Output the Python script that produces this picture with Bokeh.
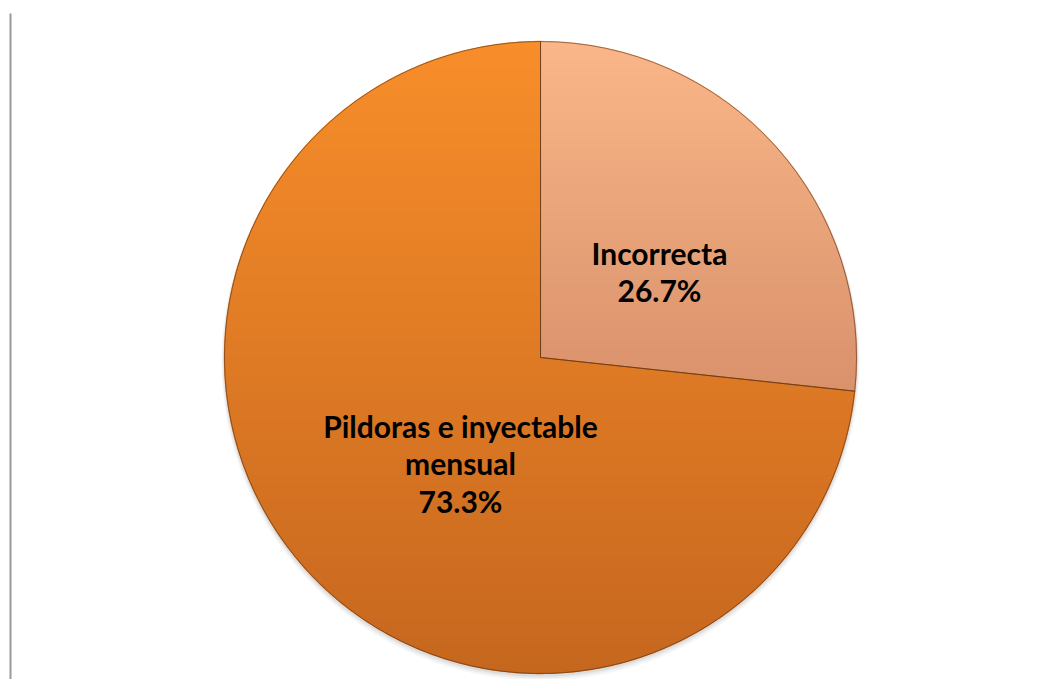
import math
from bokeh.plotting import figure
from bokeh.models import Range1d
from bokeh.core.properties import value
from bokeh.embed import file_html
from bokeh.resources import INLINE

# ---- data ----
categories = ["Incorrecta", "Pildoras e inyectable mensual"]
label_names = [["Incorrecta"], ["Pildoras e inyectable", "mensual"]]
percentages = [26.7, 73.3]

# ---- layout (screen pixel space; data y = H - screen y) ----
W, H = 1045, 679
cx, cy_page, R = 540, 357, 316
cy = H - cy_page
top_colors = [(250, 182, 136), (248, 142, 42)]
bot_colors = [(190, 116, 84), (198, 103, 31)]

p = figure(width=W, height=H, x_range=Range1d(0, W), y_range=Range1d(0, H),
           output_backend="svg", toolbar_location=None, min_border=0,
           x_axis_type=None, y_axis_type=None)
p.grid.visible = False
p.outline_line_color = None
p.background_fill_color = "white"
p.border_fill_color = "white"

# left gray rule
p.segment(x0=[10], y0=[H - 13], x1=[10], y1=[0], line_color="#9a9a9a", line_width=2)

# soft shadow
for i, a in enumerate([0.05, 0.07, 0.09]):
    p.circle(x=[cx], y=[cy - 4 + i], radius=R + 3 - i, fill_color="#555555", fill_alpha=a, line_color=None)

total = sum(percentages)
starts, ends = [], []
ang = math.pi / 2
for v in percentages:
    starts.append(ang)
    ang -= 2 * math.pi * v / total
    ends.append(ang)


def slice_poly(a0, a1, n=400):
    pts = [(cx, cy)]
    for k in range(n + 1):
        t = a0 + (a1 - a0) * k / n
        pts.append((cx + R * math.cos(t), cy + R * math.sin(t)))
    return pts


def clip(pts, keep, yc):
    out = []
    for i in range(len(pts)):
        cur, prev = pts[i], pts[i - 1]
        def inter(p0, p1):
            t = (yc - p0[1]) / (p1[1] - p0[1])
            return (p0[0] + t * (p1[0] - p0[0]), yc)
        if keep(cur):
            if not keep(prev):
                out.append(inter(prev, cur))
            out.append(cur)
        elif keep(prev):
            out.append(inter(prev, cur))
    return out


NB = 70
xs, ys, cols = [], [], []
for si in range(len(percentages)):
    poly = slice_poly(starts[si], ends[si])
    for b in range(NB):
        ytop = cy + R - 2 * R * b / NB
        ybot = cy + R - 2 * R * (b + 1) / NB
        q = clip(poly, lambda pt: pt[1] <= ytop, ytop)
        if not q:
            continue
        q = clip(q, lambda pt: pt[1] >= ybot, ybot)
        if len(q) < 3:
            continue
        t = (b + 0.5) / NB
        c0, c1 = top_colors[si], bot_colors[si]
        col = "#%02x%02x%02x" % tuple(int(round(c0[k] + (c1[k] - c0[k]) * t)) for k in range(3))
        xs.append([pt[0] for pt in q])
        ys.append([pt[1] for pt in q])
        cols.append(col)

p.patches(xs=xs, ys=ys, fill_color=cols, line_color=cols, line_width=1.3)

# outlines
p.wedge(x=[cx] * 2, y=[cy] * 2, radius=R, start_angle=starts, end_angle=ends,
        direction="clock", fill_alpha=0, line_color="#5a3418", line_alpha=0.6, line_width=1)

# labels
label_centers = [(659, 252), (460, 425)]  # (x, first baseline in screen px)
lx, ly, lt = [], [], []
for si, v in enumerate(percentages):
    lines = label_names[si] + [f"{v:.1f}%"]
    x0, b0 = label_centers[si]
    for j, s in enumerate(lines):
        lx.append(x0)
        ly.append(H - (b0 + 37.5 * j))
        lt.append(s)
p.text(x=lx, y=ly, text=lt, text_font=value("Lato"), text_font_style="bold",
       text_font_size="30px", text_align="center", text_baseline="alphabetic", text_color="black")

open("out.html", "w").write(file_html(p, INLINE))
